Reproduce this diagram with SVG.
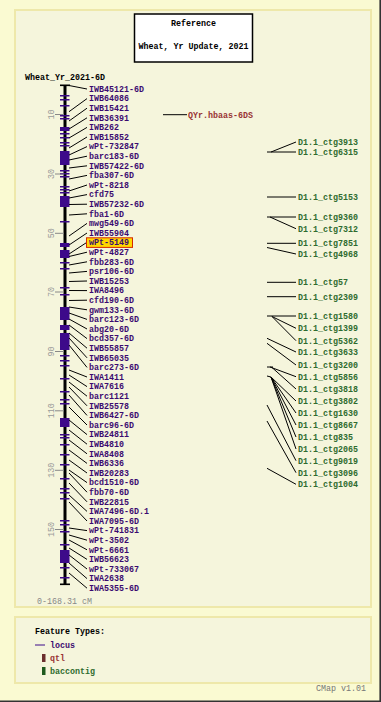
<svg xmlns="http://www.w3.org/2000/svg" width="381" height="702" viewBox="0 0 381 702">
<style>
text{font-family:"Liberation Mono","DejaVu Sans Mono",monospace;font-size:8.33px;font-weight:bold}
.loc{fill:#3b0a70}
.tk{fill:#3d0a8a}
.bac{fill:#2e6b2e}
.qtl{fill:#993333}
.sc{fill:#999;font-weight:normal}
.cn line{stroke:#000;stroke-width:1}
.panel{fill:#f5f5dc;stroke:#eee8aa;stroke-width:2}
</style>
<rect x="0" y="0" width="381" height="702" fill="#fafad2"/>
<path d="M380.2 0V701.2H0" fill="none" stroke="#333" stroke-width="1.6"/>
<rect class="panel" x="15" y="10" width="356" height="597"/>
<rect class="panel" x="15" y="617" width="356" height="66"/>

<g id="title">
<rect x="134.5" y="14" width="118" height="48" fill="#fff" stroke="#000" stroke-width="1.5"/>
<text x="193.5" y="25.5" text-anchor="middle" fill="#000">Reference</text>
<text x="193.5" y="48.8" text-anchor="middle" fill="#000">Wheat, Yr Update, 2021</text>
</g>

<g id="map">
<text x="25" y="80" fill="#000">Wheat_Yr_2021-6D</text>
<rect x="63.5" y="85" width="3" height="500" fill="#000"/>
<rect x="60" y="84.5" width="10" height="1.6" fill="#000"/>
<rect x="60" y="583.5" width="10" height="1.6" fill="#000"/>
<g class="tk">
<rect x="60" y="127" width="9.5" height="4"/>
<rect x="60" y="151" width="9.5" height="14"/>
<rect x="60" y="196" width="9.5" height="11"/>
<rect x="60" y="243" width="9.5" height="4"/>
<rect x="60" y="250" width="9.5" height="8"/>
<rect x="60" y="307" width="9.5" height="13"/>
<rect x="60" y="325" width="9.5" height="5"/>
<rect x="60" y="333" width="9.5" height="17"/>
<rect x="60" y="418" width="9.5" height="9"/>
<rect x="60" y="550" width="9.5" height="13"/>
<rect x="60" y="95" width="9.5" height="1.5"/>
<rect x="60" y="99" width="9.5" height="1.5"/>
<rect x="60" y="105" width="9.5" height="1.5"/>
<rect x="60" y="115" width="9.5" height="1.5"/>
<rect x="60" y="118" width="9.5" height="1.5"/>
<rect x="60" y="133" width="9.5" height="1.5"/>
<rect x="60" y="137" width="9.5" height="1.5"/>
<rect x="60" y="142" width="9.5" height="1.5"/>
<rect x="60" y="145" width="9.5" height="1.5"/>
<rect x="60" y="170" width="9.5" height="1.5"/>
<rect x="60" y="173" width="9.5" height="1.5"/>
<rect x="60" y="176" width="9.5" height="1.5"/>
<rect x="60" y="186" width="9.5" height="1.5"/>
<rect x="60" y="189" width="9.5" height="1.5"/>
<rect x="60" y="192" width="9.5" height="1.5"/>
<rect x="60" y="221" width="9.5" height="1.5"/>
<rect x="60" y="262" width="9.5" height="1.5"/>
<rect x="60" y="268" width="9.5" height="1.5"/>
<rect x="60" y="287" width="9.5" height="1.5"/>
<rect x="60" y="294" width="9.5" height="1.5"/>
<rect x="60" y="355" width="9.5" height="1.5"/>
<rect x="60" y="360" width="9.5" height="1.5"/>
<rect x="60" y="365" width="9.5" height="1.5"/>
<rect x="60" y="378" width="9.5" height="1.5"/>
<rect x="60" y="391" width="9.5" height="1.5"/>
<rect x="60" y="399" width="9.5" height="1.5"/>
<rect x="60" y="403" width="9.5" height="1.5"/>
<rect x="60" y="434" width="9.5" height="1.5"/>
<rect x="60" y="437" width="9.5" height="1.5"/>
<rect x="60" y="444" width="9.5" height="1.5"/>
<rect x="60" y="454" width="9.5" height="1.5"/>
<rect x="60" y="464" width="9.5" height="1.5"/>
<rect x="60" y="478" width="9.5" height="1.5"/>
<rect x="60" y="488" width="9.5" height="1.5"/>
<rect x="60" y="492" width="9.5" height="1.5"/>
<rect x="60" y="498" width="9.5" height="1.5"/>
<rect x="60" y="520" width="9.5" height="1.5"/>
<rect x="60" y="524" width="9.5" height="1.5"/>
<rect x="60" y="531" width="9.5" height="1.5"/>
<rect x="60" y="544" width="9.5" height="1.5"/>
<rect x="60" y="567" width="9.5" height="1.5"/>
<rect x="60" y="577" width="9.5" height="1.5"/>
</g>
<g id="scale" stroke="#888" stroke-width="1">
<line x1="55" y1="114.5" x2="64" y2="114.5"/>
<line x1="55" y1="174" x2="64" y2="174"/>
<line x1="55" y1="233.3" x2="64" y2="233.3"/>
<line x1="55" y1="292" x2="64" y2="292"/>
<line x1="55" y1="351.5" x2="64" y2="351.5"/>
<line x1="55" y1="410.8" x2="64" y2="410.8"/>
<line x1="55" y1="470.3" x2="64" y2="470.3"/>
<line x1="55" y1="529.5" x2="64" y2="529.5"/>
</g>
<g class="sc" text-anchor="middle">
<text class="sc" transform="translate(53.5,114.5) rotate(-90)">10</text>
<text class="sc" transform="translate(53.5,174) rotate(-90)">30</text>
<text class="sc" transform="translate(53.5,233.3) rotate(-90)">50</text>
<text class="sc" transform="translate(53.5,292) rotate(-90)">70</text>
<text class="sc" transform="translate(53.5,351.5) rotate(-90)">90</text>
<text class="sc" transform="translate(53.5,410.8) rotate(-90)">110</text>
<text class="sc" transform="translate(53.5,470.3) rotate(-90)">130</text>
<text class="sc" transform="translate(53.5,529.5) rotate(-90)">150</text>
</g>
<text class="sc" x="37" y="604" style="fill:#888">0-168.31 cM</text>
</g>

<g id="connectors" class="cn">
<line x1="69" y1="85.5" x2="87" y2="89"/>
<line x1="69" y1="111.7" x2="87" y2="98.6"/>
<line x1="69" y1="121" x2="87" y2="108.2"/>
<line x1="69" y1="129" x2="87" y2="117.8"/>
<line x1="69" y1="138" x2="87" y2="127.4"/>
<line x1="69" y1="148" x2="87" y2="137"/>
<line x1="69" y1="155" x2="87" y2="146.6"/>
<line x1="69" y1="160" x2="87" y2="156.2"/>
<line x1="69" y1="168" x2="87" y2="165.8"/>
<line x1="69" y1="179" x2="87" y2="175.4"/>
<line x1="69" y1="191" x2="87" y2="185"/>
<line x1="69" y1="198" x2="87" y2="194.6"/>
<line x1="69" y1="204.5" x2="87" y2="204.2"/>
<line x1="69" y1="215" x2="87" y2="213.8"/>
<line x1="69" y1="236" x2="87" y2="223.4"/>
<line x1="69" y1="245" x2="87" y2="233"/>
<line x1="69" y1="254" x2="86.5" y2="242.6"/>
<line x1="69" y1="256.5" x2="87" y2="252.2"/>
<line x1="69" y1="265" x2="87" y2="261.8"/>
<line x1="69" y1="273" x2="87" y2="271.4"/>
<line x1="69" y1="281.5" x2="87" y2="281"/>
<line x1="69" y1="290.5" x2="87" y2="290.6"/>
<line x1="69" y1="300.5" x2="87" y2="300.2"/>
<line x1="69" y1="307" x2="87" y2="309.8"/>
<line x1="69" y1="313" x2="87" y2="319.4"/>
<line x1="69" y1="319" x2="87" y2="329"/>
<line x1="69" y1="325" x2="87" y2="338.6"/>
<line x1="69" y1="333" x2="87" y2="348.2"/>
<line x1="69" y1="338" x2="87" y2="357.8"/>
<line x1="69" y1="345" x2="87" y2="367.4"/>
<line x1="69" y1="370" x2="87" y2="377"/>
<line x1="69" y1="375" x2="87" y2="386.6"/>
<line x1="69" y1="382" x2="87" y2="396.2"/>
<line x1="69" y1="387" x2="87" y2="405.8"/>
<line x1="69" y1="395" x2="87" y2="415.4"/>
<line x1="69" y1="407" x2="87" y2="425"/>
<line x1="69" y1="420" x2="87" y2="434.6"/>
<line x1="69" y1="430" x2="87" y2="444.2"/>
<line x1="69" y1="440" x2="87" y2="453.8"/>
<line x1="69" y1="450" x2="87" y2="463.4"/>
<line x1="69" y1="460" x2="87" y2="473"/>
<line x1="69" y1="470" x2="87" y2="482.6"/>
<line x1="69" y1="473" x2="87" y2="492.2"/>
<line x1="69" y1="483" x2="87" y2="501.8"/>
<line x1="69" y1="495" x2="87" y2="511.4"/>
<line x1="69" y1="502" x2="87" y2="521"/>
<line x1="69" y1="528" x2="87" y2="530.6"/>
<line x1="69" y1="535" x2="87" y2="540.2"/>
<line x1="69" y1="540" x2="87" y2="549.8"/>
<line x1="69" y1="548" x2="87" y2="559.4"/>
<line x1="69" y1="555" x2="87" y2="569"/>
<line x1="69" y1="563" x2="87" y2="578.6"/>
<line x1="69" y1="573" x2="87" y2="588.2"/>
<line x1="163" y1="114.7" x2="187" y2="114.7"/>
<line x1="267" y1="152" x2="296" y2="152"/>
<line x1="271" y1="152" x2="296" y2="142"/>
<line x1="267" y1="197" x2="296" y2="197"/>
<line x1="267" y1="217" x2="296" y2="217"/>
<line x1="270" y1="217" x2="296" y2="228.7"/>
<line x1="267" y1="243.3" x2="296" y2="243.3"/>
<line x1="267" y1="247.5" x2="296" y2="254"/>
<line x1="267" y1="282.3" x2="296" y2="282.3"/>
<line x1="267" y1="296.7" x2="296" y2="296.7"/>
<line x1="267" y1="316" x2="296" y2="316"/>
<line x1="272" y1="316.5" x2="296" y2="328.3"/>
<line x1="272" y1="316.5" x2="296" y2="340.7"/>
<line x1="267" y1="338.3" x2="296" y2="352"/>
<line x1="267" y1="343.3" x2="296" y2="365"/>
<line x1="267" y1="367" x2="273" y2="367"/>
<line x1="270" y1="367" x2="296" y2="376.7"/>
<line x1="272" y1="367.5" x2="296" y2="389"/>
<line x1="267" y1="376" x2="271" y2="377"/>
<line x1="271" y1="377" x2="296" y2="401"/>
<line x1="271" y1="377" x2="296" y2="413"/>
<line x1="271" y1="377" x2="296" y2="425"/>
<line x1="271" y1="377" x2="296" y2="437"/>
<line x1="271" y1="377" x2="296" y2="449"/>
<line x1="267" y1="405" x2="296" y2="460.7"/>
<line x1="267" y1="421" x2="296" y2="472.7"/>
<line x1="267" y1="468.3" x2="296" y2="484.3"/>
</g>

<g id="loci" class="loc">
<g id="n0"><text x="89" y="91.8" class="loc">IWB45121-6D</text></g>
<g id="n1"><text x="89" y="101.4" class="loc">IWB64086</text></g>
<g id="n2"><text x="89" y="111" class="loc">IWB15421</text></g>
<g id="n3"><text x="89" y="120.6" class="loc">IWB36391</text></g>
<g id="n4"><text x="89" y="130.2" class="loc">IWB262</text></g>
<g id="n5"><text x="89" y="139.8" class="loc">IWB15852</text></g>
<g id="n6"><text x="89" y="149.4" class="loc">wPt-732847</text></g>
<g id="n7"><text x="89" y="159" class="loc">barc183-6D</text></g>
<g id="n8"><text x="89" y="168.6" class="loc">IWB57422-6D</text></g>
<g id="n9"><text x="89" y="178.2" class="loc">fba307-6D</text></g>
<g id="n10"><text x="89" y="187.8" class="loc">wPt-8218</text></g>
<g id="n11"><text x="89" y="197.4" class="loc">cfd75</text></g>
<g id="n12"><text x="89" y="207" class="loc">IWB57232-6D</text></g>
<g id="n13"><text x="89" y="216.6" class="loc">fba1-6D</text></g>
<g id="n14"><text x="89" y="226.2" class="loc">mwg549-6D</text></g>
<g id="n15"><text x="89" y="235.8" class="loc">IWB55904</text></g>
<g id="n16"><rect x="86.5" y="237.8" width="46" height="9.6" fill="#ffd800" stroke="#d42a00" stroke-width="1"/><text x="89" y="245.4" class="loc">wPt-5149</text></g>
<g id="n17"><text x="89" y="255" class="loc">wPt-4827</text></g>
<g id="n18"><text x="89" y="264.6" class="loc">fbb283-6D</text></g>
<g id="n19"><text x="89" y="274.2" class="loc">psr106-6D</text></g>
<g id="n20"><text x="89" y="283.8" class="loc">IWB15253</text></g>
<g id="n21"><text x="89" y="293.4" class="loc">IWA8496</text></g>
<g id="n22"><text x="89" y="303" class="loc">cfd190-6D</text></g>
<g id="n23"><text x="89" y="312.6" class="loc">gwm133-6D</text></g>
<g id="n24"><text x="89" y="322.2" class="loc">barc123-6D</text></g>
<g id="n25"><text x="89" y="331.8" class="loc">abg20-6D</text></g>
<g id="n26"><text x="89" y="341.4" class="loc">bcd357-6D</text></g>
<g id="n27"><text x="89" y="351" class="loc">IWB55857</text></g>
<g id="n28"><text x="89" y="360.6" class="loc">IWB65035</text></g>
<g id="n29"><text x="89" y="370.2" class="loc">barc273-6D</text></g>
<g id="n30"><text x="89" y="379.8" class="loc">IWA1411</text></g>
<g id="n31"><text x="89" y="389.4" class="loc">IWA7616</text></g>
<g id="n32"><text x="89" y="399" class="loc">barc1121</text></g>
<g id="n33"><text x="89" y="408.6" class="loc">IWB25578</text></g>
<g id="n34"><text x="89" y="418.2" class="loc">IWB6427-6D</text></g>
<g id="n35"><text x="89" y="427.8" class="loc">barc96-6D</text></g>
<g id="n36"><text x="89" y="437.4" class="loc">IWB24811</text></g>
<g id="n37"><text x="89" y="447" class="loc">IWB4810</text></g>
<g id="n38"><text x="89" y="456.6" class="loc">IWA8408</text></g>
<g id="n39"><text x="89" y="466.2" class="loc">IWB6336</text></g>
<g id="n40"><text x="89" y="475.8" class="loc">IWB20283</text></g>
<g id="n41"><text x="89" y="485.4" class="loc">bcd1510-6D</text></g>
<g id="n42"><text x="89" y="495" class="loc">fbb70-6D</text></g>
<g id="n43"><text x="89" y="504.6" class="loc">IWB22815</text></g>
<g id="n44"><text x="89" y="514.2" class="loc">IWA7496-6D.1</text></g>
<g id="n45"><text x="89" y="523.8" class="loc">IWA7095-6D</text></g>
<g id="n46"><text x="89" y="533.4" class="loc">wPt-741831</text></g>
<g id="n47"><text x="89" y="543" class="loc">wPt-3502</text></g>
<g id="n48"><text x="89" y="552.6" class="loc">wPt-6661</text></g>
<g id="n49"><text x="89" y="562.2" class="loc">IWB56623</text></g>
<g id="n50"><text x="89" y="571.8" class="loc">wPt-733067</text></g>
<g id="n51"><text x="89" y="581.4" class="loc">IWA2638</text></g>
<g id="n52"><text x="89" y="591" class="loc">IWA5355-6D</text></g>
</g>

<g id="qtl1"><text x="188" y="117.5" class="qtl">QYr.hbaas-6DS</text></g>

<g id="contigs">
<g id="c1"><text x="298" y="144.8" class="bac">D1.1_ctg3913</text></g>
<g id="c2"><text x="298" y="154.8" class="bac">D1.1_ctg6315</text></g>
<g id="c3"><text x="298" y="199.8" class="bac">D1.1_ctg5153</text></g>
<g id="c4"><text x="298" y="219.8" class="bac">D1.1_ctg9360</text></g>
<g id="c5"><text x="298" y="231.5" class="bac">D1.1_ctg7312</text></g>
<g id="c6"><text x="298" y="246.1" class="bac">D1.1_ctg7851</text></g>
<g id="c7"><text x="298" y="256.8" class="bac">D1.1_ctg4968</text></g>
<g id="c8"><text x="298" y="285.1" class="bac">D1.1_ctg57</text></g>
<g id="c9"><text x="298" y="299.5" class="bac">D1.1_ctg2309</text></g>
<g id="c10"><text x="298" y="318.8" class="bac">D1.1_ctg1580</text></g>
<g id="c11"><text x="298" y="331.1" class="bac">D1.1_ctg1399</text></g>
<g id="c12"><text x="298" y="343.5" class="bac">D1.1_ctg5362</text></g>
<g id="c13"><text x="298" y="354.8" class="bac">D1.1_ctg3633</text></g>
<g id="c14"><text x="298" y="367.8" class="bac">D1.1_ctg3200</text></g>
<g id="c15"><text x="298" y="379.5" class="bac">D1.1_ctg5856</text></g>
<g id="c16"><text x="298" y="391.8" class="bac">D1.1_ctg3818</text></g>
<g id="c17"><text x="298" y="403.8" class="bac">D1.1_ctg3802</text></g>
<g id="c18"><text x="298" y="415.8" class="bac">D1.1_ctg1630</text></g>
<g id="c19"><text x="298" y="427.8" class="bac">D1.1_ctg8667</text></g>
<g id="c20"><text x="298" y="439.8" class="bac">D1.1_ctg835</text></g>
<g id="c21"><text x="298" y="451.8" class="bac">D1.1_ctg2065</text></g>
<g id="c22"><text x="298" y="463.5" class="bac">D1.1_ctg9019</text></g>
<g id="c23"><text x="298" y="475.5" class="bac">D1.1_ctg3096</text></g>
<g id="c24"><text x="298" y="487.1" class="bac">D1.1_ctg1004</text></g>
</g>

<g id="legend">
<text x="35" y="633.8" fill="#000">Feature Types:</text>
<line x1="35" y1="645" x2="45" y2="645" stroke="#3d0a8a" stroke-width="1"/>
<text x="50" y="647.8" class="loc">locus</text>
<rect x="42" y="654" width="3.5" height="8" fill="#6b2e2e"/>
<text x="50" y="660.8" class="qtl">qtl</text>
<rect x="42" y="667" width="3.5" height="8" fill="#1e5a1e"/>
<text x="50" y="673.8" class="bac">baccontig</text>
<text x="316" y="691" style="fill:#777;font-weight:normal">CMap v1.01</text>
</g>
</svg>
